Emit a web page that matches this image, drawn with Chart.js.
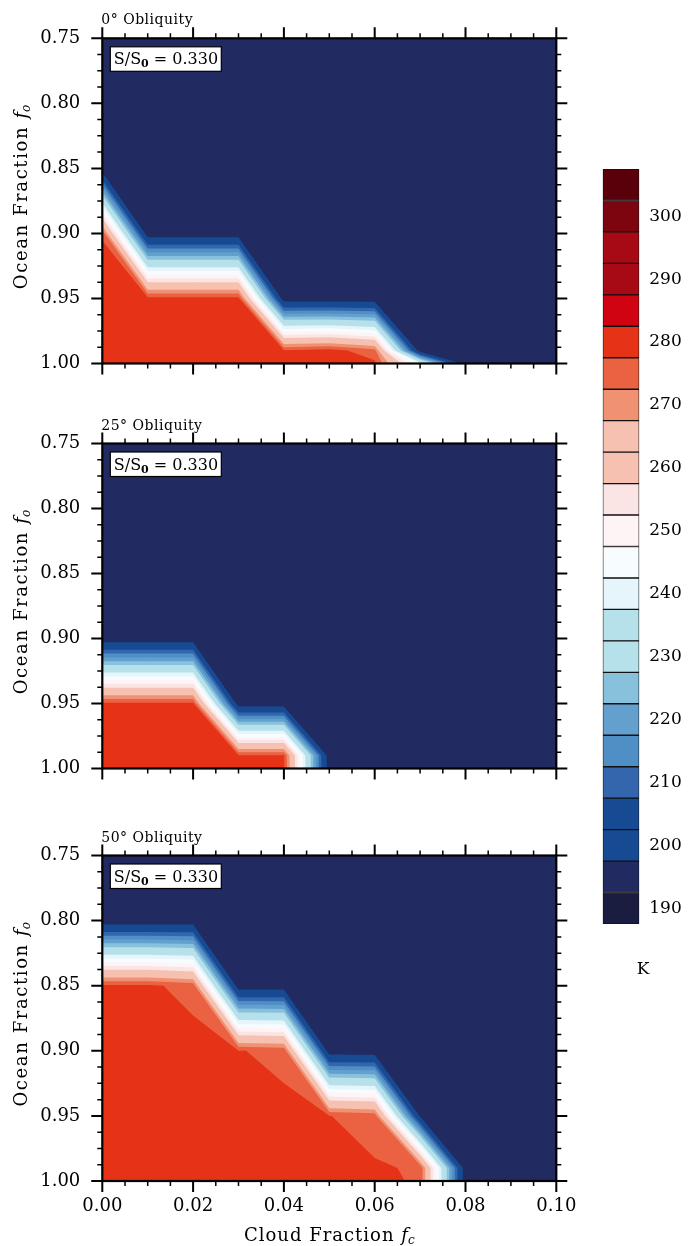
<!DOCTYPE html>
<html>
<head>
<meta charset="utf-8">
<title>Ocean fraction vs cloud fraction</title>
<script src="https://cdn.jsdelivr.net/npm/chart.js@4.4.1/dist/chart.umd.min.js"></script>
<style>
  html, body { margin:0; padding:0; background:#ffffff; }
  #page { position:relative; width:688px; height:1246px; overflow:hidden; background:#fff; }
  #page canvas { position:absolute; left:0; top:0; }
</style>
</head>
<body>
<div id="page">
  <canvas id="panel0" width="688" height="1246"></canvas>
  <canvas id="panel1" width="688" height="1246"></canvas>
  <canvas id="panel2" width="688" height="1246"></canvas>
  <canvas id="colorbar" width="688" height="1246"></canvas>
</div>
<script>
// ---------------- data ----------------
const cloudFraction = [0.00, 0.01, 0.02, 0.03, 0.04, 0.05, 0.06, 0.07, 0.08, 0.09, 0.10];
const oceanFraction = [0.75, 0.80, 0.85, 0.90, 0.95, 0.99, 1.00];

// surface temperature (K), rows = ocean fraction, columns = cloud fraction
const tempObliquity0 = [
  [192.5,192.5,192.5,192.5,192.5,192.5,192.5,192.5,192.5,192.5,192.5],
  [192.5,192.5,192.5,192.5,192.5,192.5,192.5,192.5,192.5,192.5,192.5],
  [192.5,192.5,192.5,192.5,192.5,192.5,192.5,192.5,192.5,192.5,192.5],
  [277.0,192.5,192.5,192.5,192.5,192.5,192.5,192.5,192.5,192.5,192.5],
  [281.5,279.2,279.2,279.2,192.5,192.5,192.5,192.5,192.5,192.5,192.5],
  [280.5,280.5,280.5,280.5,278.0,279.5,274.5,192.5,192.5,192.5,192.5],
  [280.5,280.5,280.5,280.5,279.5,279.5,278.5,242.5,192.5,192.5,192.5]
];
const tempObliquity25 = [
  [192.5,192.5,192.5,192.5,192.5,192.5,192.5,192.5,192.5,192.5,192.5],
  [192.5,192.5,192.5,192.5,192.5,192.5,192.5,192.5,192.5,192.5,192.5],
  [192.5,192.5,192.5,192.5,192.5,192.5,192.5,192.5,192.5,192.5,192.5],
  [192.5,192.5,192.5,192.5,192.5,192.5,192.5,192.5,192.5,192.5,192.5],
  [278.5,278.5,278.5,192.5,192.5,192.5,192.5,192.5,192.5,192.5,192.5],
  [280.5,280.5,280.5,278.0,278.0,192.5,192.5,192.5,192.5,192.5,192.5],
  [280.5,280.5,280.5,280.5,278.5,192.5,192.5,192.5,192.5,192.5,192.5]
];
const tempObliquity50 = [
  [192.5,192.5,192.5,192.5,192.5,192.5,192.5,192.5,192.5,192.5,192.5],
  [192.5,192.5,192.5,192.5,192.5,192.5,192.5,192.5,192.5,192.5,192.5],
  [278.4,278.4,275.8,192.5,192.5,192.5,192.5,192.5,192.5,192.5,192.5],
  [280.5,280.5,279.5,277.7,276.5,192.5,192.5,192.5,192.5,192.5,192.5],
  [280.5,280.5,280.5,280.5,278.5,277.6,275.8,196.5,192.5,192.5,192.5],
  [280.5,280.5,280.5,280.5,280.5,280.5,277.9,277.1,192.5,192.5,192.5],
  [280.5,280.5,280.5,280.5,280.5,280.5,278.5,277.0,192.5,192.5,192.5]
];

// contour levels (K) and fill colours (lowest band first)
const tempLevels = [192.5,197.5,202.5,207.5,212.5,217.5,222.5,227.5,232.5,237.5,242.5,247.5,
                    252.5,257.5,262.5,267.5,272.5,277.5,282.5,287.5,292.5,297.5,302.5];
const bandColors = ['#1a1c40','#212a61','#164b94','#164b94','#3366ad','#4f8fc6','#64a0cd','#87c1dc',
                    '#b7e1ea','#b7e1ea','#e6f5fb','#f7fcff','#fef4f6','#fbe4e4','#f6c1b0','#f6c1b0',
                    '#f09171','#ea6242','#e63216','#cf0311','#a70a14','#a70a14','#7c0510','#5a000b'];
const colorbarRange = [187.5, 307.5];
const colorbarLabels = [190,200,210,220,230,240,250,260,270,280,290,300];

const cloudTicks = [0.00, 0.02, 0.04, 0.06, 0.08, 0.10];
const oceanTicks = [0.75, 0.80, 0.85, 0.90, 0.95, 1.00];
const panelTitles = ['0\u00B0 Obliquity', '25\u00B0 Obliquity', '50\u00B0 Obliquity'];
const fluxRatio = '0.330';

// ---------------- layout ----------------
const W = 688, H = 1246;
const plotLeft = 102.3, plotRight = 556.3;
const panelTop = [38.3, 443.5, 855.5];
const panelBottom = [363.5, 768.5, 1181];
const SERIF = '"DejaVu Serif"';

function minorBetween(major, n) {
  const out = [];
  for (let k = 0; k < major.length - 1; k++) {
    const a = major[k], b = major[k + 1];
    for (let m = 1; m <= n; m++) out.push(a + (b - a) * m / (n + 1));
  }
  return out;
}
const cloudMinor = minorBetween(cloudTicks, 3);
const oceanMinor = minorBetween(oceanTicks, 3);

function richText(ctx, parts, x, y, align) {
  let total = 0;
  parts.forEach(p => { ctx.font = p.font; ctx.letterSpacing = (p.ls || 0) + 'px'; p.w = ctx.measureText(p.text).width; total += p.w; });
  let cx = align === 'center' ? x - total / 2 : x;
  parts.forEach(p => { ctx.font = p.font; ctx.letterSpacing = (p.ls || 0) + 'px'; ctx.fillText(p.text, cx, y + (p.dy || 0)); cx += p.w; });
  ctx.letterSpacing = '0px';
}

function drawContours(chart, grid) {
  const { ctx, chartArea: a, scales: { x, y } } = chart;
  ctx.save();
  ctx.beginPath();
  ctx.rect(a.left, a.top, a.right - a.left, a.bottom - a.top);
  ctx.clip();
  ctx.fillStyle = bandColors[0];
  ctx.fillRect(a.left, a.top, a.right - a.left, a.bottom - a.top);
  for (let k = 0; k < tempLevels.length; k++) {
    const L = tempLevels[k];
    ctx.beginPath();
    let any = false;
    for (let j = 0; j < oceanFraction.length - 1; j++) {
      for (let i = 0; i < cloudFraction.length - 1; i++) {
        const corners = [[i, j], [i + 1, j], [i + 1, j + 1], [i, j + 1]];
        const pts = [];
        for (let c = 0; c < 4; c++) {
          const [ia, ja] = corners[c], [ib, jb] = corners[(c + 1) % 4];
          const ta = grid[ja][ia], tb = grid[jb][ib];
          const xa = cloudFraction[ia], ya = oceanFraction[ja];
          const xb = cloudFraction[ib], yb = oceanFraction[jb];
          if (ta >= L) pts.push([xa, ya]);
          if ((ta >= L) !== (tb >= L)) {
            const t = (L - ta) / (tb - ta);
            pts.push([xa + t * (xb - xa), ya + t * (yb - ya)]);
          }
        }
        if (pts.length >= 3) {
          pts.forEach((p, n) => {
            const px = x.getPixelForValue(p[0]), py = y.getPixelForValue(p[1]);
            if (n === 0) ctx.moveTo(px, py); else ctx.lineTo(px, py);
          });
          ctx.closePath();
          any = true;
        }
      }
    }
    if (any) { ctx.fillStyle = bandColors[k + 1]; ctx.fill(); }
  }
  ctx.restore();
}

function drawFrame(chart) {
  const { ctx, chartArea: a, scales: { x, y } } = chart;
  ctx.save();
  ctx.strokeStyle = '#000';
  ctx.lineCap = 'butt';
  ctx.lineWidth = 1.5;
  ctx.beginPath();
  oceanMinor.forEach(v => {
    const p = y.getPixelForValue(v);
    ctx.moveTo(a.left - 5, p); ctx.lineTo(a.left, p);
    ctx.moveTo(a.right, p); ctx.lineTo(a.right + 5, p);
  });
  cloudMinor.forEach(v => {
    const p = x.getPixelForValue(v);
    ctx.moveTo(p, a.top - 5); ctx.lineTo(p, a.top);
    ctx.moveTo(p, a.bottom); ctx.lineTo(p, a.bottom + 5);
  });
  ctx.stroke();
  ctx.lineWidth = 2;
  ctx.beginPath();
  oceanTicks.forEach(v => {
    const p = y.getPixelForValue(v);
    ctx.moveTo(a.left - 11, p); ctx.lineTo(a.left, p);
    ctx.moveTo(a.right, p); ctx.lineTo(a.right + 11, p);
  });
  cloudTicks.forEach(v => {
    const p = x.getPixelForValue(v);
    ctx.moveTo(p, a.top - 11); ctx.lineTo(p, a.top);
    ctx.moveTo(p, a.bottom); ctx.lineTo(p, a.bottom + 11);
  });
  ctx.stroke();
  ctx.lineWidth = 2.2;
  ctx.strokeRect(a.left, a.top, a.right - a.left, a.bottom - a.top);
  ctx.restore();
}

function drawTexts(chart, idx) {
  const { ctx, chartArea: a } = chart;
  ctx.save();
  ctx.fillStyle = '#000';
  ctx.textBaseline = 'alphabetic';
  ctx.textAlign = 'left';
  // panel title
  richText(ctx, [{ text: panelTitles[idx], font: '14px ' + SERIF, ls: 0.5 }], a.left - 1, a.top - 14, 'left');
  // S/S0 box
  const bx = a.left + 8, by = a.top + 8.5, bw = 111, bh = 24.5;
  ctx.fillStyle = '#fff';
  ctx.fillRect(bx, by, bw, bh);
  ctx.strokeStyle = '#000'; ctx.lineWidth = 1.2;
  ctx.strokeRect(bx, by, bw, bh);
  ctx.fillStyle = '#000';
  richText(ctx, [
    { text: 'S/S', font: '16px ' + SERIF },
    { text: '0', font: 'bold 11px ' + SERIF, dy: 3 },
    { text: ' = ' + fluxRatio, font: '16px ' + SERIF }
  ], bx + 3.5, a.top + 26, 'left');
  // y title
  ctx.save();
  ctx.translate(27, (a.top + a.bottom) / 2 - 4);
  ctx.rotate(-Math.PI / 2);
  richText(ctx, [
    { text: 'Ocean Fraction ', font: '18px ' + SERIF, ls: 1.6 },
    { text: 'f', font: 'italic 18px ' + SERIF },
    { text: 'o', font: 'italic 12px ' + SERIF, dy: 3 }
  ], 0, 0, 'center');
  ctx.restore();
  if (idx === 2) {
    richText(ctx, [
      { text: 'Cloud Fraction ', font: '18px ' + SERIF, ls: 1.0 },
      { text: 'f', font: 'italic 18px ' + SERIF },
      { text: 'c', font: 'italic 12px ' + SERIF, dy: 3 }
    ], (a.left + a.right) / 2, 1241, 'center');
  }
  ctx.restore();
}

function makePanelPlugin(grid, idx) {
  return {
    id: 'contourPanel' + idx,
    beforeDatasetsDraw(chart) { drawContours(chart, grid); },
    afterDraw(chart) { drawFrame(chart); drawTexts(chart, idx); }
  };
}

function gridPoints(grid) {
  const pts = [];
  oceanFraction.forEach((yv, j) => cloudFraction.forEach((xv, i) => pts.push({ x: xv, y: yv, t: grid[j][i] })));
  return pts;
}

const grids = [tempObliquity0, tempObliquity25, tempObliquity50];
grids.forEach((grid, idx) => {
  const isBottom = idx === 2;
  const xAxisH = isBottom ? 40 : 0;
  new Chart(document.getElementById('panel' + idx), {
    type: 'scatter',
    data: { datasets: [{ data: gridPoints(grid), pointRadius: 0, pointHoverRadius: 0, showLine: false }] },
    options: {
      responsive: false, animation: false, events: [],
      layout: { padding: { left: 0, top: panelTop[idx], right: W - plotRight, bottom: H - panelBottom[idx] - xAxisH } },
      plugins: { legend: { display: false }, tooltip: { enabled: false }, title: { display: false } },
      scales: {
        x: {
          type: 'linear', min: 0, max: 0.1, display: isBottom,
          afterFit: s => { s.height = xAxisH; },
          afterBuildTicks: s => { s.ticks = cloudTicks.map(v => ({ value: v })); },
          grid: { display: false, drawTicks: false }, border: { display: false },
          ticks: { callback: v => Number(v).toFixed(2), font: { family: SERIF, size: 18 }, color: '#000', padding: 15, maxRotation: 0, autoSkip: false }
        },
        y: {
          type: 'linear', min: 0.75, max: 1.0, reverse: true,
          afterFit: s => { s.width = plotLeft; },
          afterBuildTicks: s => { s.ticks = oceanTicks.map(v => ({ value: v })); },
          grid: { display: false, drawTicks: false }, border: { display: false },
          ticks: { callback: v => Number(v).toFixed(2), font: { family: SERIF, size: 18 }, color: '#000', padding: 22, autoSkip: false }
        }
      }
    },
    plugins: [makePanelPlugin(grid, idx)]
  });
});

// colour bar
const cbEdges = [colorbarRange[0], ...tempLevels, colorbarRange[1]];
new Chart(document.getElementById('colorbar'), {
  type: 'bar',
  data: {
    labels: ['K'],
    datasets: bandColors.map((c, i) => ({
      data: [[cbEdges[i], cbEdges[i + 1]]],
      backgroundColor: c, borderColor: '#111', borderWidth: 1, borderSkipped: false,
      barPercentage: 1, categoryPercentage: 1, grouped: false
    }))
  },
  options: {
    responsive: false, animation: false, events: [],
    layout: { padding: { left: 602.7, top: 169, right: 0, bottom: H - 924 } },
    plugins: { legend: { display: false }, tooltip: { enabled: false } },
    scales: {
      x: { display: false },
      y: {
        type: 'linear', min: colorbarRange[0], max: colorbarRange[1], position: 'right',
        afterFit: s => { s.width = W - 639.3; },
        afterBuildTicks: s => { s.ticks = colorbarLabels.map(v => ({ value: v })); },
        grid: { display: false, drawTicks: false }, border: { display: false },
        ticks: { font: { family: SERIF, size: 17 }, color: '#000', padding: 10, autoSkip: false }
      }
    }
  },
  plugins: [{
    id: 'unitLabel',
    afterDraw(chart) {
      const ctx = chart.ctx;
      ctx.save();
      ctx.fillStyle = '#000';
      ctx.font = '17px ' + SERIF;
      ctx.textAlign = 'center';
      ctx.textBaseline = 'middle';
      ctx.fillText('K', 643, 970);
      ctx.restore();
    }
  }]
});
</script>
</body>
</html>
